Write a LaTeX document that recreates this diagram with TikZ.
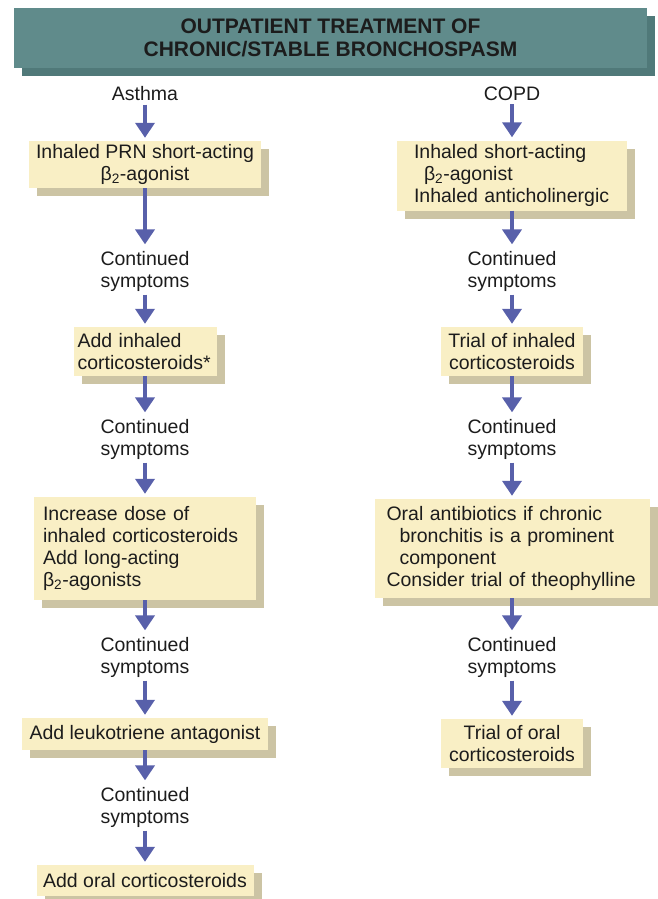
\documentclass[tikz,border=0pt]{standalone}
\usepackage{fontspec}
\setmainfont{Liberation Sans}
\usetikzlibrary{arrows.meta, shadows, positioning}

\definecolor{bannerfill}{RGB}{96,139,139}
\definecolor{bannershade}{RGB}{80,121,121}
\definecolor{boxfill}{RGB}{249,239,197}
\definecolor{boxshade}{RGB}{204,196,164}
\definecolor{flowblue}{RGB}{88,96,170}
\definecolor{ink}{RGB}{28,28,28}

\begin{document}
\begin{tikzpicture}[x=1pt, y=-1pt,
  every node/.style={text=ink, font=\fontsize{19.5}{22}\selectfont},
  note/.style={align=center},
  banner/.style={fill=bannerfill, minimum width=633pt, minimum height=60pt, align=center,
    font=\bfseries\fontsize{21}{23}\selectfont,
    general shadow={fill=bannershade, shadow xshift=8pt, shadow yshift=-8pt}},
  stepbox/.style={fill=boxfill, inner ysep=0pt,
    general shadow={fill=boxshade, shadow xshift=8pt, shadow yshift=-8pt}},
  flow/.style={draw=flowblue, line width=4pt, -{Triangle[length=15pt, width=19pt]}, shorten >=3pt}]

  \useasboundingbox (0,0) rectangle (657,899);

  % heading
  \node[banner] (title) at (330.5,38) {OUTPATIENT TREATMENT OF\\CHRONIC/STABLE BRONCHOSPASM};

  % asthma column
  \node[note] (asthma) at (145,94) {Asthma};
  \node[stepbox, minimum width=232pt, minimum height=47pt, align=center] (l1) at (145,164.5)
    {Inhaled PRN short-acting\\β\textsubscript{2}-agonist};
  \node[stepbox, text width=135pt, inner xsep=4pt, minimum height=49pt, align=left] (l2) at (145,351.5)
    {Add inhaled\\corticosteroids*};
  \node[stepbox, text width=204pt, inner xsep=9pt, minimum height=103pt, align=left] (l3) at (145,548.5)
    {Increase dose of\\inhaled corticosteroids\\Add long-acting\\β\textsubscript{2}-agonists};
  \node[stepbox, minimum width=246pt, minimum height=32pt, align=center] (l4) at (145,734)
    {Add leukotriene antagonist};
  \node[stepbox, minimum width=217pt, minimum height=31pt, align=center] (l5) at (145,880.5)
    {Add oral corticosteroids};
  \foreach \n/\y in {1/271,2/439,3/657,4/807}
    \node[note] (cl\n) at (145,\y) {Continued\\symptoms};

  % copd column
  \node[note] (copd) at (512,94) {COPD};
  \node[stepbox, text width=196pt, inner xsep=17pt, minimum height=70pt, align=left] (r1) at (512,175.5)
    {Inhaled short-acting\\\hspace*{10pt}β\textsubscript{2}-agonist\\Inhaled anticholinergic};
  \node[stepbox, minimum width=142pt, minimum height=49pt, align=center] (r2) at (512,351.5)
    {Trial of inhaled\\corticosteroids};
  \node[stepbox, text width=251pt, inner xsep=12pt, minimum height=99pt, align=left] (r3) at (512,548.5)
    {Oral antibiotics if chronic\\\hspace*{13pt}bronchitis is a prominent\\\hspace*{13pt}component\\Consider trial of theophylline};
  \node[stepbox, minimum width=142pt, minimum height=49pt, align=center] (r4) at (512,743.5)
    {Trial of oral\\corticosteroids};
  \foreach \n/\y in {1/271,2/439,3/657}
    \node[note] (cr\n) at (512,\y) {Continued\\symptoms};

  % arrows
  \foreach \a/\b in {asthma/l1, l1/cl1, cl1/l2, l2/cl2, cl2/l3, l3/cl3, cl3/l4, l4/cl4, cl4/l5,
                     copd/r1, r1/cr1, cr1/r2, r2/cr2, cr2/r3, r3/cr3, cr3/r4}
    \draw[flow] (\a) -- (\b);
\end{tikzpicture}
\end{document}
